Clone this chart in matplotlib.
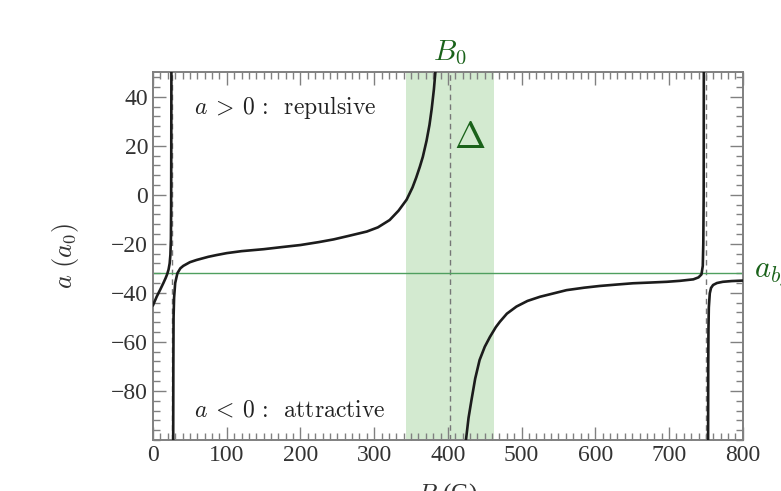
import numpy as np
import matplotlib.pyplot as plt
from matplotlib.ticker import MultipleLocator

plt.rcParams['mathtext.fontset'] = 'cm'
plt.rcParams['font.family'] = ['Liberation Serif', 'DejaVu Serif']

# scattering length a (in a0) vs field B (in G), one list per branch between poles
b1 = [0, 5, 10, 14, 17, 19, 21, 22.5, 23.5, 24.2, 24.5, 24.7, 24.85]
a1 = [-45, -41.5, -38.5, -36, -34, -32.5, -30.5, -28, -24.5, -18, -5, 20, 50]

b2 = [27.3, 27.5, 27.8, 28.5, 30, 33, 37, 41, 50, 59, 75, 86, 100, 120, 150,
      176, 200, 225, 245, 265, 290, 305, 321, 333, 344, 352, 357, 362, 366,
      371, 375, 378, 381, 383]
a2 = [-100, -70, -50, -42, -36, -32, -30, -29, -27.5, -26.6, -25.3, -24.6,
      -23.8, -23, -22.2, -21.3, -20.5, -19.3, -18.2, -16.8, -15, -13.3, -10.3,
      -6.5, -2, 3, 7, 11.5, 15.5, 22, 28.5, 35, 43, 50]

b3 = [424.5, 428, 432, 437, 443, 450, 457, 465, 470.5, 480, 493, 508, 525,
      545, 561, 585, 606, 630, 651, 675, 697, 715, 733, 740, 744, 745.8,
      746.5, 747, 747.2]
a3 = [-100, -91, -83.7, -75, -67.4, -62, -58, -54, -51.8, -48.5, -45.6,
      -43.3, -41.6, -40.1, -38.9, -37.9, -37.2, -36.6, -36.1, -35.8, -35.5,
      -35.1, -34.5, -33.7, -32.5, -29, -20, 0, 50]

b4 = [753, 753.2, 753.5, 754, 755.3, 757, 759.8, 765, 773, 785, 800]
a4 = [-100, -70, -55, -46, -40.2, -38, -36.8, -36, -35.5, -35.2, -35]

poles = [26, 750]
B0 = 403
delta = 60
a_bg = -32

fig = plt.figure(figsize=(7.81, 4.91), dpi=100)
ax = fig.add_axes([0.196, 0.104, 0.755, 0.749])

ax.axvspan(B0 - delta, B0 + delta, color='#d3ead0', lw=0, zorder=0)
ax.axvline(B0, color='#777777', ls='--', lw=1.0, dashes=(4, 3), zorder=1)
for p in poles:
    ax.axvline(p, color='#777777', ls='--', lw=1.0, dashes=(4, 3), zorder=1)
ax.axhline(a_bg, color='#4f9f5f', lw=1.0, zorder=2)

for b, a in [(b1, a1), (b2, a2), (b3, a3), (b4, a4)]:
    ax.plot(b, a, color='#1c1c1c', lw=1.9, zorder=3)

ax.set_xlim(0, 800)
ax.set_ylim(-100, 50)
ax.xaxis.set_major_locator(MultipleLocator(100))
ax.xaxis.set_minor_locator(MultipleLocator(10))
ax.yaxis.set_major_locator(MultipleLocator(20))
ax.yaxis.set_minor_locator(MultipleLocator(4))
ax.set_yticks([-80, -60, -40, -20, 0, 20, 40])
ax.set_yticklabels(['\u221280', '\u221260', '\u221240', '\u221220', '0', '20', '40'])

ax.tick_params(which='both', direction='in', top=True, right=True,
               color='#808080', labelcolor='#333333', labelsize=17)
ax.tick_params(which='major', length=9.5, width=1.0)
ax.tick_params(which='minor', length=5, width=1.0)
for s in ax.spines.values():
    s.set_color('#808080')
    s.set_linewidth(1.4)

ax.set_xlabel(r'$B$ (G)', fontsize=18, color='#333333', labelpad=11)
ax.set_ylabel(r'$a\ (a_0)$', fontsize=19, color='#333333', labelpad=22)

ax.text(0.07, 0.905, r'$a \:>\: 0\,:\;\; \mathrm{repulsive}$', transform=ax.transAxes,
        fontsize=17, color='#222222', va='center', ha='left')
ax.text(0.07, 0.08, r'$a \:<\: 0\,:\;\; \mathrm{attractive}$', transform=ax.transAxes,
        fontsize=17, color='#222222', va='center', ha='left')

green = '#1a621a'
ax.text(B0, 52, r'$B_0$', fontsize=21, color=green, ha='center', va='bottom')
ax.text(B0 + 27, 23, r'$\Delta$', fontsize=27, color=green, ha='center', va='center')
ax.text(815, a_bg, r'$a_{bg}$', fontsize=22, color=green, ha='left', va='center',
        clip_on=False)

fig.savefig('out.png', dpi=100)
